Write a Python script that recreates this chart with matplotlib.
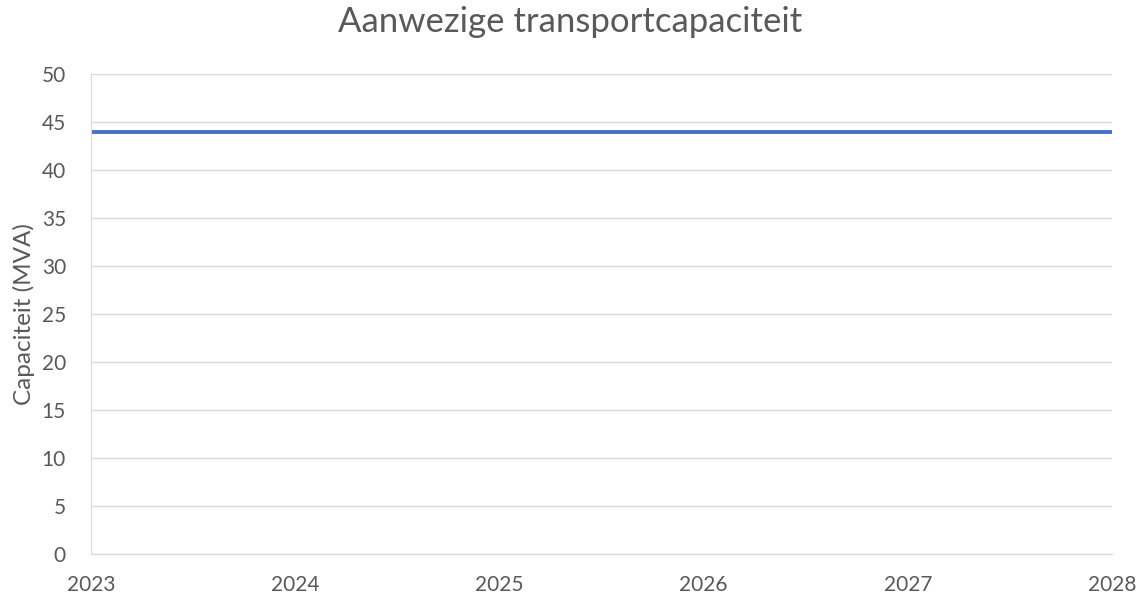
import matplotlib.pyplot as plt

years = [2023, 2024, 2025, 2026, 2027, 2028]
capaciteit = [44, 44, 44, 44, 44, 44]
y_ticks = [0, 5, 10, 15, 20, 25, 30, 35, 40, 45, 50]

plt.rcParams['font.family'] = ['Lato', 'DejaVu Sans']

fig = plt.figure(figsize=(11.4, 5.99), dpi=100)
ax = fig.add_axes([91 / 1140, 1 - 554 / 599, (1112 - 91) / 1140, (554 - 74) / 599])

ax.plot(years, capaciteit, color='#4472C4', linewidth=2.8, solid_capstyle='butt')

ax.set_xlim(years[0], years[-1])
ax.set_ylim(0, 50)
ax.set_xticks(years)
ax.set_yticks(y_ticks)
ax.grid(axis='y', color='#D9D9D9', linewidth=1)
ax.set_axisbelow(True)

for side in ['top', 'right']:
    ax.spines[side].set_visible(False)
ax.spines['left'].set_color('#D9D9D9')
ax.spines['bottom'].set_color('#D9D9D9')
ax.tick_params(length=0, colors='#595959', labelsize=15)
ax.tick_params(axis='x', pad=15)
ax.tick_params(axis='y', pad=18)

ax.set_ylabel('Capaciteit (MVA)', color='#595959', fontsize=17.5, labelpad=5)
fig.suptitle('Aanwezige transportcapaciteit', color='#595959', fontsize=25, y=0.99)

fig.savefig('out.png', dpi=100)
